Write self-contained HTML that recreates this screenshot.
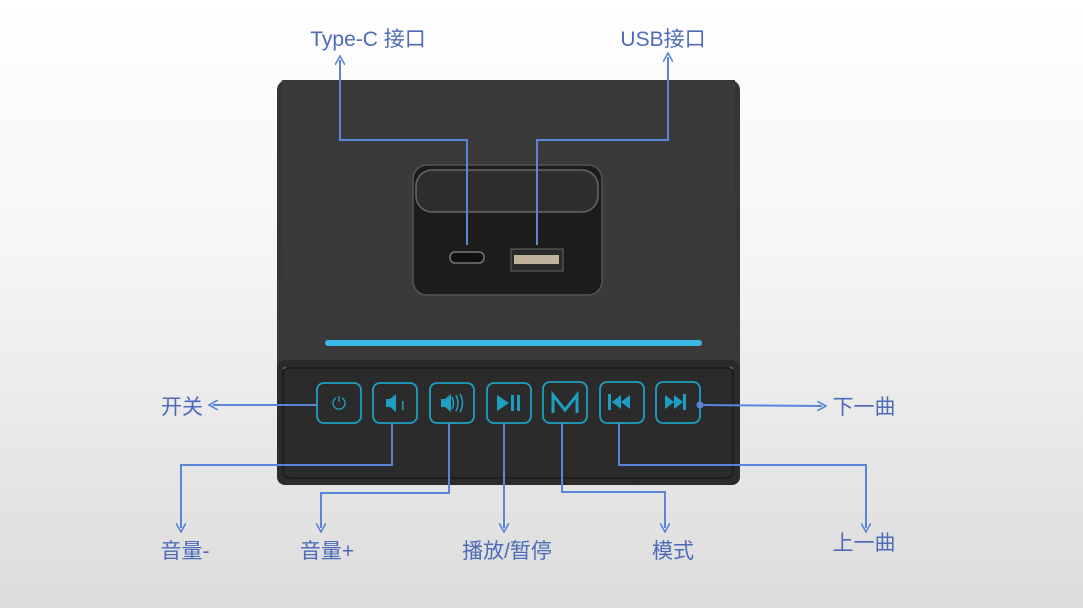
<!DOCTYPE html>
<html><head><meta charset="utf-8"><style>
html,body{margin:0;padding:0}
body{width:1083px;height:608px;position:relative;overflow:hidden;background:linear-gradient(#ffffff 0%,#f6f6f6 40%,#dcdcdc 100%);font-family:"Liberation Sans","Noto Sans CJK SC",sans-serif}
.l{position:absolute;color:#4d6bb8;font-size:21px;white-space:nowrap;transform:translate(-50%,-50%)}
</style></head><body>
<svg width="1083" height="608" style="position:absolute;left:0;top:0">
<defs>
<linearGradient id="top" x1="0" y1="0" x2="0" y2="1"><stop offset="0" stop-color="#333"/><stop offset="1" stop-color="#3c3c3c"/></linearGradient>
<marker id="a" markerWidth="10" markerHeight="10" refX="5" refY="5" orient="auto" markerUnits="userSpaceOnUse"><path d="M0,0 L9,5 L0,10" fill="none" stroke="#5b86d8" stroke-width="1.6"/></marker>
</defs>
<rect x="277" y="80" width="463" height="405" rx="10" fill="url(#top)"/>
<rect x="282" y="80" width="453" height="290" fill="#3a3a3a"/>
<rect x="413" y="165" width="189" height="130" rx="14" fill="#1c1c1c" stroke="#555" stroke-width="1.5"/>
<rect x="416" y="170" width="182" height="42" rx="16" fill="#2e2e2e" stroke="#666" stroke-width="1.5"/>
<rect x="450" y="252" width="34" height="11" rx="5" fill="#111" stroke="#777" stroke-width="1.5"/>
<rect x="511" y="249" width="52" height="22" fill="#2a2a2a" stroke="#666"/>
<rect x="514" y="255" width="45" height="9" fill="#bfb39b"/>
<rect x="325" y="340" width="377" height="6" rx="3" fill="#3ab8e8"/>
<rect x="277" y="360" width="463" height="125" rx="8" fill="#2b2b2b"/>
<line x1="283" y1="368" x2="733" y2="368" stroke="#888" stroke-width="1"/>
<rect x="283" y="368" width="450" height="110" rx="6" fill="none" stroke="#1a1a1a" stroke-width="1.5"/>
<g fill="none" stroke="#1e9fc2" stroke-width="1.8">
<rect x="317" y="383" width="44" height="40" rx="7"/>
<rect x="373" y="383" width="44" height="40" rx="7"/>
<rect x="430" y="383" width="44" height="40" rx="7"/>
<rect x="487" y="383" width="44" height="40" rx="7"/>
<rect x="543" y="382" width="44" height="41" rx="7"/>
<rect x="600" y="382" width="44" height="41" rx="7"/>
<rect x="656" y="382" width="44" height="41" rx="7"/>
<path d="M336,398 a6,6 0 1 0 6,0 M339,396 v6" stroke-width="1.3"/>
<path d="M553,413 L553,395 L565,410 L577,395 L577,413" stroke-width="3"/>
<path d="M452,397 q3,6 0,12 M456,395 q4,8 0,16 M460,394 q5,9 0,18" stroke-width="1.5"/>
</g>
<g fill="#1e9fc2">
<path d="M386,399 h4 l6,-5 v18 l-6,-5 h-4z"/>
<rect x="402" y="401" width="1.5" height="9"/>
<path d="M441,399 h4 l6,-5 v18 l-6,-5 h-4z"/>
<path d="M497,395 l12,8 l-12,8z"/><rect x="511" y="395" width="3" height="16"/><rect x="517" y="395" width="3" height="16"/>
<rect x="608" y="394" width="3" height="16"/><path d="M612,402 l9,-7 v14z M621,402 l9,-7 v14z"/>
<path d="M665,395 l9,7 l-9,7z M674,395 l9,7 l-9,7z"/><rect x="683" y="394" width="3" height="16"/>
</g>
<g fill="none" stroke="#5b86d8" stroke-width="2">
<polyline points="467,245 467,140 340,140 340,60" marker-end="url(#a)"/>
<polyline points="537,245 537,140 668,140 668,57" marker-end="url(#a)"/>
<polyline points="317,405 213,405" marker-end="url(#a)"/>
<polyline points="700,405 822,406" marker-end="url(#a)"/>
<polyline points="392,423 392,465 181,465 181,528" marker-end="url(#a)"/>
<polyline points="449,423 449,493 321,493 321,528" marker-end="url(#a)"/>
<polyline points="504,423 504,528" marker-end="url(#a)"/>
<polyline points="562,423 562,492 665,492 665,528" marker-end="url(#a)"/>
<polyline points="619,423 619,465 866,465 866,528" marker-end="url(#a)"/>
</g>
<circle cx="700" cy="405" r="3.5" fill="#5b86d8"/>
</svg>
<div class="l" style="left:368px;top:38px">Type-C 接口</div>
<div class="l" style="left:663px;top:38px">USB接口</div>
<div class="l" style="left:182px;top:406px">开关</div>
<div class="l" style="left:864px;top:406px">下一曲</div>
<div class="l" style="left:185px;top:550px">音量-</div>
<div class="l" style="left:327px;top:550px">音量+</div>
<div class="l" style="left:507px;top:550px">播放/暂停</div>
<div class="l" style="left:673px;top:550px">模式</div>
<div class="l" style="left:864px;top:542px">上一曲</div>
</body></html>
